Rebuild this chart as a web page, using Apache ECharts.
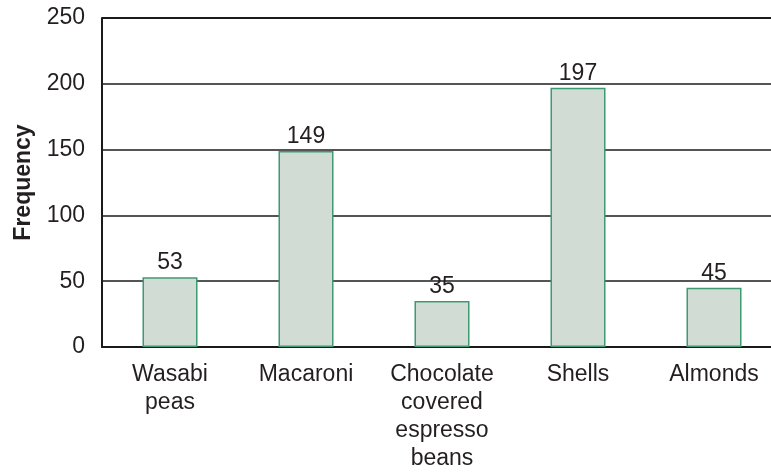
<!DOCTYPE html>
<html>
<head>
<meta charset="utf-8">
<script src="https://cdn.jsdelivr.net/npm/echarts@6/dist/echarts.min.js"></script>
<style>
  html, body { margin: 0; padding: 0; background: #fff; }
  #chart { width: 771px; height: 473px; }
</style>
</head>
<body>
<div id="chart"></div>
<script>
// Snack choices and how often each was picked
const categories = ['Wasabi\npeas', 'Macaroni', 'Chocolate\ncovered\nespresso\nbeans', 'Shells', 'Almonds'];
const frequencies = [53, 149, 35, 197, 45];
const yTicks = { min: 0, max: 250, interval: 50 };
const yAxisTitle = 'Frequency';

const FONT = '"Liberation Sans", Arial, Helvetica, sans-serif';
const TEXT = '#231f20';

const chart = echarts.init(document.getElementById('chart'), null, { renderer: 'canvas' });
chart.setOption({
  animation: false,
  backgroundColor: '#ffffff',
  // plot area runs a little past the right edge of the canvas
  grid: { left: 102, top: 18, width: 680, height: 329, containLabel: false, outerBoundsMode: 'none' },
  xAxis: {
    type: 'category',
    data: categories,
    axisLine: { show: true, lineStyle: { color: '#1a1a1a', width: 2 } },
    axisTick: { show: false },
    axisLabel: {
      interval: 0,
      margin: 14,
      color: TEXT,
      fontFamily: FONT,
      fontSize: 23,
      lineHeight: 28,
      align: 'center'
    }
  },
  yAxis: {
    type: 'value',
    min: yTicks.min,
    max: yTicks.max,
    interval: yTicks.interval,
    name: yAxisTitle,
    nameLocation: 'middle',
    nameGap: 67,
    nameRotate: 90,
    nameTextStyle: { color: TEXT, fontFamily: FONT, fontSize: 23, fontWeight: 'bold' },
    axisLine: { show: true, lineStyle: { color: '#1a1a1a', width: 2 } },
    axisTick: { show: false },
    axisLabel: { margin: 17, color: TEXT, fontFamily: FONT, fontSize: 23 },
    splitLine: {
      show: true,
      lineStyle: {
        color: ['#1a1a1a', '#555555', '#555555', '#555555', '#555555', '#1a1a1a'],
        width: 2
      }
    }
  },
  series: [{
    type: 'bar',
    data: frequencies,
    barWidth: 55,
    itemStyle: { color: '#d1ddd4', borderColor: '#3f9a72', borderWidth: 1.5 },
    label: {
      show: true,
      position: 'top',
      distance: 3,
      color: TEXT,
      fontFamily: FONT,
      fontSize: 23
    }
  }]
});
</script>
</body>
</html>
